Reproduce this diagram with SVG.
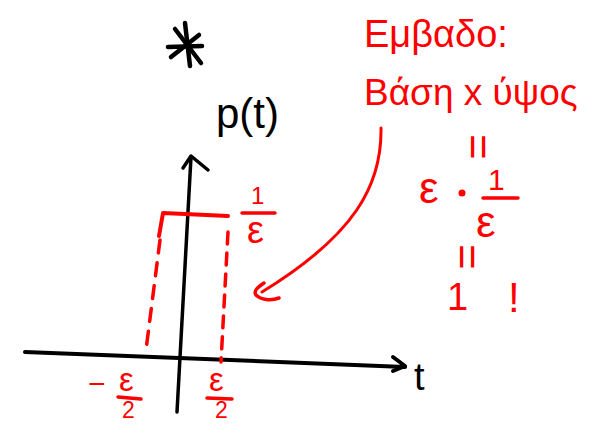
<svg xmlns="http://www.w3.org/2000/svg" width="589" height="425" viewBox="0 0 589 425">
<style>
.k{stroke:#000;fill:none;stroke-linecap:round;stroke-linejoin:round}
.r{stroke:#f00;fill:none;stroke-linecap:round;stroke-linejoin:round}
.tk{font-family:"Liberation Sans","DejaVu Sans",sans-serif;fill:#000}
.tr{font-family:"Liberation Sans","DejaVu Sans",sans-serif;fill:#f00}
</style>
<rect width="589" height="425" fill="#fff"/>
<g id="asterisk" class="k" stroke-width="4.5">
<path d="M185,23 L190,66"/>
<path d="M175,29 L201,63"/>
<path d="M171,57 L199,35"/>
<path d="M168,47 L202,46"/>
</g>
<g id="axes">
<path class="k" stroke-width="3.5" d="M191,157 Q184,290 177,412"/>
<path class="k" stroke-width="3.5" d="M183,168 L191,156 L208,170"/>
<path class="k" stroke-width="4" d="M25,352 L405,367"/>
<path class="k" stroke-width="4" d="M393,357 L405,366 L393,371"/>
<text class="tk" x="216" y="128" font-size="42">p(t)</text>
<text class="tk" x="414" y="390" font-size="38">t</text>
</g>
<g id="pulse">
<path class="r" stroke-width="4" d="M159,236 L163,213 L228,216"/>
<path class="r" stroke-width="3.5" stroke-dasharray="13 10" d="M160,240 L146,350"/>
<path class="r" stroke-width="3.5" stroke-dasharray="12 9" d="M228,232 L221,362"/>
<text class="tr" x="251" y="204" font-size="24">1</text>
<path class="r" stroke-width="3.5" d="M242,213 L275,213"/>
<text class="tr" x="247" y="243" font-size="38">ε</text>
<text class="tr" x="88" y="394" font-size="30">−</text>
<text class="tr" x="119" y="391" font-size="33">ε</text>
<path class="r" stroke-width="3.5" d="M118,397 L141,399"/>
<text class="tr" x="122" y="418" font-size="23">2</text>
<text class="tr" x="209" y="391" font-size="33">ε</text>
<path class="r" stroke-width="3.5" d="M207,398 L232,399"/>
<text class="tr" x="215" y="418" font-size="23">2</text>
</g>
<g id="area-note">
<text class="tr" x="364" y="47" font-size="38">Εμβαδο:</text>
<text class="tr" x="364" y="105" font-size="37">Βάση x ύψος</text>
<text class="tr" font-size="44" transform="translate(475,146) rotate(90)" x="-12" y="12">=</text>
<text class="tr" x="419" y="203" font-size="44">ε</text>
<circle cx="462" cy="193" r="3.5" fill="#f00"/>
<text class="tr" x="488" y="190" font-size="30">1</text>
<path class="r" stroke-width="3.5" d="M483,198 L518,198"/>
<text class="tr" x="476" y="237" font-size="44">ε</text>
<text class="tr" font-size="44" transform="translate(464,256) rotate(90)" x="-12" y="12">=</text>
<text class="tr" x="447" y="310" font-size="38">1</text>
<text class="tr" x="508" y="312" font-size="42">!</text>
</g>
<g id="connectors">
<path class="r" stroke-width="3" d="M381,128 C382,185 355,235 262,292"/>
<path class="r" stroke-width="3.5" d="M264,283 C258,287 253,291 256,295 C261,300 271,301 279,298"/>
</g>
</svg>
